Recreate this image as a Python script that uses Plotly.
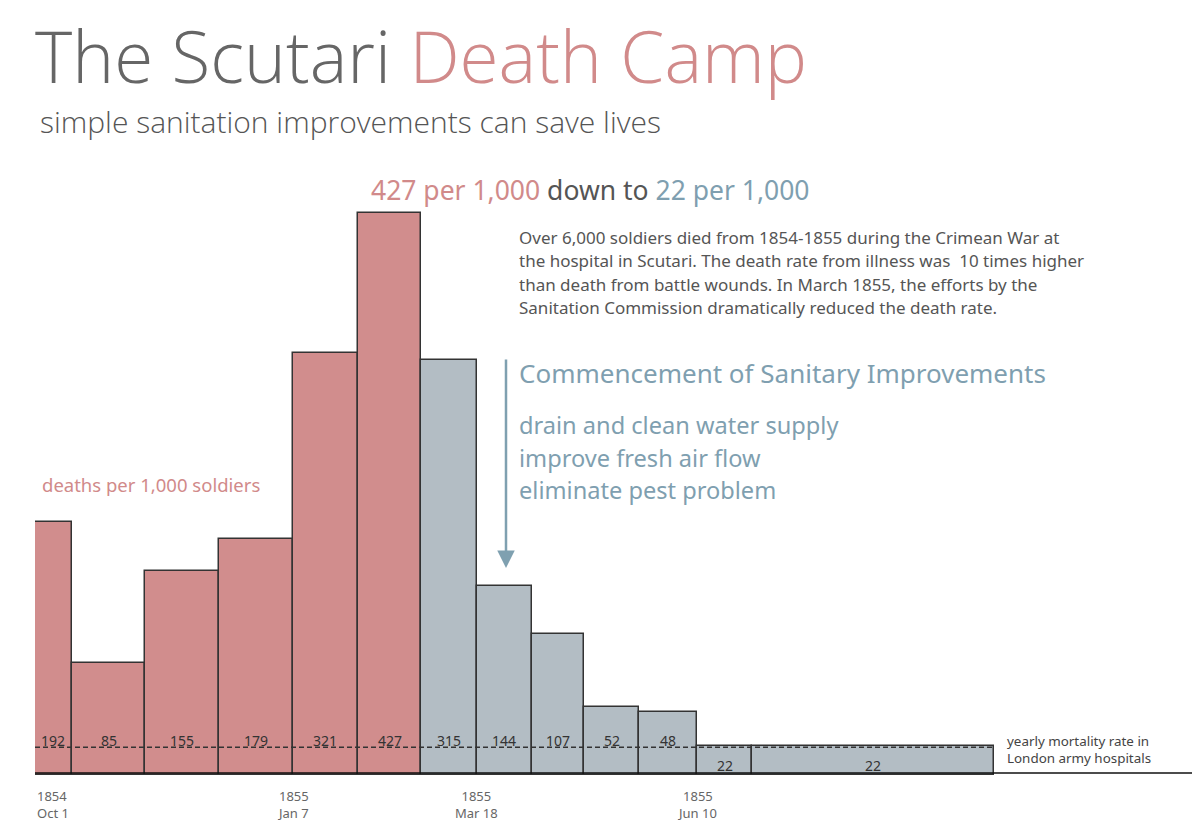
import pandas as pd
import plotly.graph_objects as go

# ---------------- data ----------------
period_start = ["1854-10-01", "1854-10-15", "1854-11-12", "1854-12-10", "1855-01-07",
                "1855-02-01", "1855-02-25", "1855-03-18", "1855-04-08", "1855-04-28",
                "1855-05-19", "1855-06-10", "1855-07-01"]
period_end = ["1854-10-15", "1854-11-12", "1854-12-10", "1855-01-07", "1855-02-01",
              "1855-02-25", "1855-03-18", "1855-04-08", "1855-04-28", "1855-05-19",
              "1855-06-10", "1855-07-01", "1855-10-01"]
deaths_per_1000 = [192, 85, 155, 179, 321, 427, 315, 144, 107, 52, 48, 22, 22]
phase = ["before"] * 6 + ["after"] * 7
london_rate = 21
tick_dates = ["1854-10-01", "1855-01-07", "1855-03-18", "1855-06-10"]
tick_labels = [("1854", "Oct 1"), ("1855", "Jan 7"), ("1855", "Mar 18"), ("1855", "Jun 10")]

paragraph = ["Over 6,000 soldiers died from 1854-1855 during the Crimean War at",
             "the hospital in Scutari. The death rate from illness was  10 times higher",
             "than death from battle wounds. In March 1855, the efforts by the",
             "Sanitation Commission dramatically reduced the death rate."]
improvements = ["drain and clean water supply", "improve fresh air flow", "eliminate pest problem"]

RED = "#D18D8D"
GREY = "#B3BDC4"
RED_TXT = "#D18A8A"
BLUE_TXT = "#7F9FB0"
DARK = "#333333"

# ---------------- layout geometry ----------------
W, H = 1200, 832
OFF = 8  # page body margin
L, R, T, B = 35, 1192, 150, 775
x0 = pd.Timestamp("1854-10-01")
x1 = x0 + pd.Timedelta(days=(R - L) / 2.628)
ymax = (B - T) / 1.316


def px(xp):
    return (xp - L) / (R - L)


def py(yp):
    return (B - yp) / (B - T)


starts = pd.to_datetime(period_start)
ends = pd.to_datetime(period_end)
mids = starts + (ends - starts) / 2
widths = [(e - s).total_seconds() * 1000 for s, e in zip(starts, ends)]

fig = go.Figure()
for ph, col in [("before", RED), ("after", GREY)]:
    idx = [i for i, p in enumerate(phase) if p == ph]
    fig.add_trace(go.Bar(
        x=[mids[i] for i in idx],
        y=[deaths_per_1000[i] for i in idx],
        width=[widths[i] for i in idx],
        marker=dict(color=col, line=dict(color=DARK, width=1.5)),
        showlegend=False,
        hoverinfo="x+y",
    ))

annotations = []
# value labels inside bars
for m, v in zip(mids, deaths_per_1000):
    yv = 26 if v > 30 else 7.5
    annotations.append(dict(x=m, y=yv, xref="x", yref="y", text=str(v), showarrow=False,
                            font=dict(family="Noto Sans", size=14, color=DARK),
                            xanchor="center", yanchor="middle"))

# dashed reference line
fig.add_shape(type="line", xref="x", yref="y", x0=starts[0], x1=ends[-1],
              y0=london_rate, y1=london_rate, layer="above",
              line=dict(color=DARK, width=1.5, dash="5px,3px"))

# x tick labels
for i, (d, (yr, md)) in enumerate(zip(tick_dates, tick_labels)):
    annotations.append(dict(x=pd.Timestamp(d), y=py(804), xref="x", yref="paper",
                            text=f"{yr}<br>{md}", showarrow=False, align="left" if i == 0 else "center",
                            xanchor="left" if i == 0 else "center", yanchor="middle",
                            font=dict(family="Noto Sans", size=13, color="#666666")))

txt = [
    # title
    dict(x=px(33), y=py(55), text=f"<span style='color:#666666'>The Scutari</span> "
         f"<span style='color:{RED_TXT}'>Death Camp</span>",
         font=dict(family="Open Sans", size=71, weight=300), xanchor="left"),
    dict(x=px(38), y=py(121), text="simple sanitation improvements can save lives",
         font=dict(family="Open Sans", size=30, color="#555555", weight=300), xanchor="left"),
    dict(x=px(369), y=py(190), text=f"<span style='color:{RED_TXT}'>427 per 1,000</span> "
         f"<span style='color:#555555'>down to</span> "
         f"<span style='color:{BLUE_TXT}'>22 per 1,000</span>",
         font=dict(family="Noto Sans", size=26.5), xanchor="left"),
    dict(x=px(517), y=py(373), text="Commencement of Sanitary Improvements",
         font=dict(family="Noto Sans", size=26, color=BLUE_TXT), xanchor="left"),
    dict(x=px(40), y=py(484), text="deaths per 1,000 soldiers",
         font=dict(family="Noto Sans", size=18.5, color=RED_TXT), xanchor="left"),
    dict(x=px(1005), y=py(749), text="yearly mortality rate in<br>London army hospitals",
         font=dict(family="Noto Sans", size=13.4, color="#444444"), xanchor="left", align="left"),
]
for line, yp in zip(paragraph, [237, 260.5, 284, 307.5]):
    txt.append(dict(x=px(517), y=py(yp), text=line, xanchor="left",
                    font=dict(family="Noto Sans", size=17, color="#555555")))
for line, yp in zip(improvements, [425, 457.5, 490]):
    txt.append(dict(x=px(517), y=py(yp), text=line, xanchor="left",
                    font=dict(family="Noto Sans", size=23.6, color=BLUE_TXT)))
for a in txt:
    a.update(xref="paper", yref="paper", showarrow=False, yanchor="middle")
    annotations.append(a)

# arrow
annotations.append(dict(x=px(506), y=py(568), xref="paper", yref="paper",
                        ax=0, ay=-(568 - 358), axref="pixel", ayref="pixel",
                        text="", showarrow=True, arrowhead=2, arrowsize=1.4,
                        arrowwidth=2.5, arrowcolor="#7FA0B0"))

fig.update_layout(
    width=W, height=H, autosize=False,
    margin=dict(l=L - OFF, r=W - R + OFF, t=T - OFF, b=H - B + OFF, pad=0),
    paper_bgcolor="white", plot_bgcolor="white",
    bargap=0,
    annotations=annotations,
    xaxis=dict(type="date", range=[x0, x1], showgrid=False, zeroline=False,
               showticklabels=False, ticks="", showline=False),
    yaxis=dict(range=[0, ymax], showgrid=False, zeroline=False, showticklabels=False,
               ticks="", showline=False),
)
# baseline axis line
fig.add_shape(type="line", xref="paper", yref="paper", x0=0, x1=1, y0=py(773), y1=py(773),
              layer="above", line=dict(color="#111111", width=1.5))

fig.write_html("out.html")
